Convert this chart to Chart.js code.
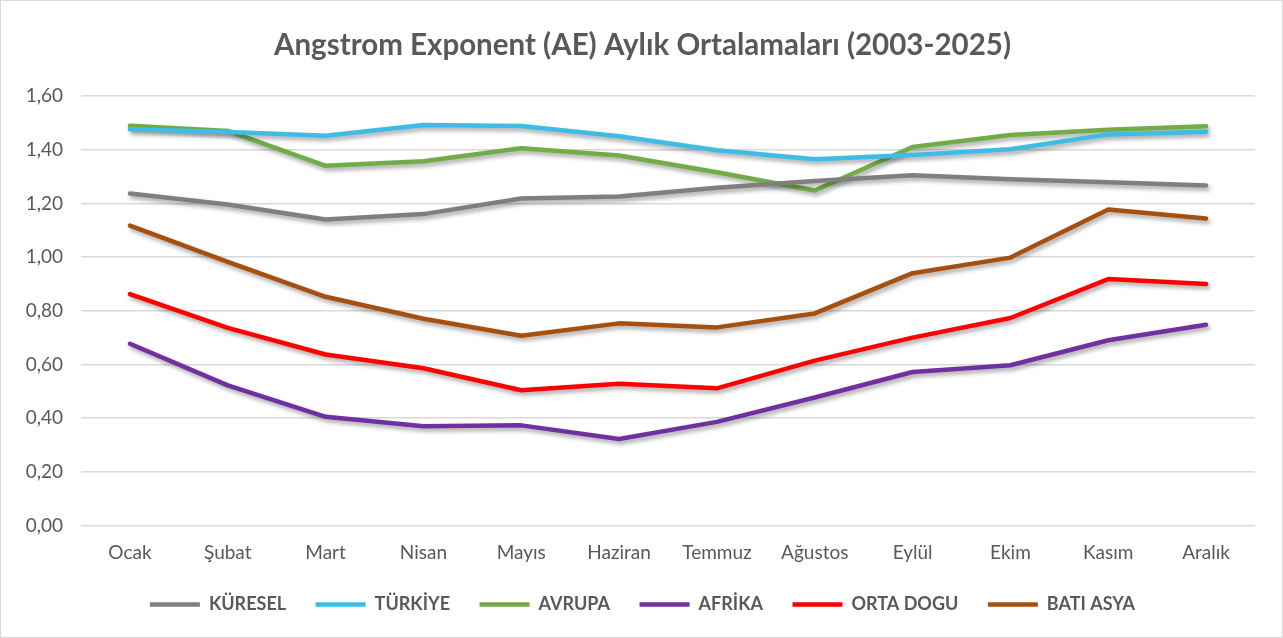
<!DOCTYPE html>
<html lang="tr">
<head>
    <meta charset="UTF-8">
    <title>Angstrom Exponent (AE) Aylık Ortalamaları</title>
    <script src="https://cdn.jsdelivr.net/npm/chart.js"></script>
    <style>
        html, body { margin: 0; padding: 0; background: #fff; }
        .chart-box { width: 1281px; height: 636px; border: 1px solid #d9d9d9; }
    </style>
</head>
<body>
    <div class="chart-box">
        <canvas id="aeChart" width="1281" height="636"></canvas>
    </div>

    <script>
        const months = ["Ocak", "Şubat", "Mart", "Nisan", "Mayıs", "Haziran", "Temmuz", "Ağustos", "Eylül", "Ekim", "Kasım", "Aralık"];

        const kuresel  = [1.237, 1.196, 1.140, 1.160, 1.218, 1.226, 1.258, 1.283, 1.305, 1.290, 1.279, 1.267];
        const turkiye  = [1.476, 1.466, 1.452, 1.492, 1.488, 1.450, 1.398, 1.364, 1.380, 1.402, 1.457, 1.467];
        const avrupa   = [1.489, 1.470, 1.340, 1.357, 1.405, 1.378, 1.316, 1.248, 1.410, 1.455, 1.474, 1.487];
        const afrika   = [0.677, 0.522, 0.405, 0.370, 0.373, 0.322, 0.386, 0.477, 0.572, 0.597, 0.690, 0.748];
        const ortaDogu = [0.862, 0.736, 0.637, 0.586, 0.504, 0.528, 0.511, 0.614, 0.700, 0.773, 0.918, 0.900];
        const batiAsya = [1.117, 0.982, 0.852, 0.770, 0.707, 0.753, 0.738, 0.790, 0.940, 0.998, 1.177, 1.144];

        const textColor = "#595959";
        const fontFamily = "Lato, 'Open Sans', sans-serif";

        function serie(label, data, color) {
            return {
                label: label,
                data: data,
                borderColor: color,
                backgroundColor: color,
                borderWidth: 4.5,
                borderCapStyle: "round",
                borderJoinStyle: "round",
                pointRadius: 0,
                pointHoverRadius: 0,
                tension: 0,
                fill: false
            };
        }

        // soft drop shadow under the lines, like the original
        const lineShadow = {
            id: "lineShadow",
            beforeDatasetsDraw(chart) {
                const c = chart.ctx;
                c.save();
                c.shadowColor = "rgba(0,0,0,0.35)";
                c.shadowBlur = 4;
                c.shadowOffsetX = 2;
                c.shadowOffsetY = 3;
            },
            afterDatasetsDraw(chart) {
                chart.ctx.restore();
            }
        };

        const ctx = document.getElementById("aeChart").getContext("2d");
        new Chart(ctx, {
            type: "line",
            data: {
                labels: months,
                datasets: [
                    serie("KÜRESEL", kuresel, "#7f7f7f"),
                    serie("TÜRKİYE", turkiye, "#3dbce6"),
                    serie("AVRUPA", avrupa, "#70ad47"),
                    serie("AFRİKA", afrika, "#7030a0"),
                    serie("ORTA DOGU", ortaDogu, "#ff0000"),
                    serie("BATI ASYA", batiAsya, "#a64f0e")
                ]
            },
            plugins: [lineShadow],
            options: {
                responsive: false,
                animation: false,
                layout: { padding: { left: 12, right: 10, top: 0, bottom: 13.5 } },
                plugins: {
                    title: {
                        display: true,
                        text: "Angstrom Exponent (AE) Aylık Ortalamaları (2003-2025)",
                        color: textColor,
                        font: { family: fontFamily, size: 29.5, weight: "bold" },
                        padding: { top: 27, bottom: 32.6 }
                    },
                    legend: {
                        position: "bottom",
                        labels: {
                            color: textColor,
                            font: { family: fontFamily, size: 18, weight: "bold" },
                            usePointStyle: true,
                            pointStyle: "line",
                            pointStyleWidth: 50,
                            boxHeight: 17,
                            padding: 29.5
                        }
                    },
                    tooltip: { enabled: false }
                },
                scales: {
                    x: {
                        offset: true,
                        grid: { display: false },
                        border: { display: false },
                        ticks: {
                            color: textColor,
                            font: { family: fontFamily, size: 19 },
                            padding: 8,
                            maxRotation: 0
                        },
                        afterFit(scale) { scale.height = 40.5; }
                    },
                    y: {
                        min: 0,
                        max: 1.6,
                        grid: { color: "#d9d9d9", lineWidth: 1.5, drawTicks: false },
                        border: { display: false },
                        ticks: {
                            stepSize: 0.2,
                            color: textColor,
                            font: { family: fontFamily, size: 19 },
                            padding: 18,
                            callback: v => v.toFixed(2).replace(".", ",")
                        },
                        afterFit(scale) { scale.width = 68; }
                    },
                    // empty right-hand axis, only keeps the right margin so title and legend stay centred
                    yRight: {
                        position: "right",
                        display: true,
                        grid: { display: false },
                        border: { display: false },
                        ticks: { display: false },
                        afterFit(scale) { scale.width = 17; }
                    }
                }
            }
        });
    </script>
</body>
</html>
